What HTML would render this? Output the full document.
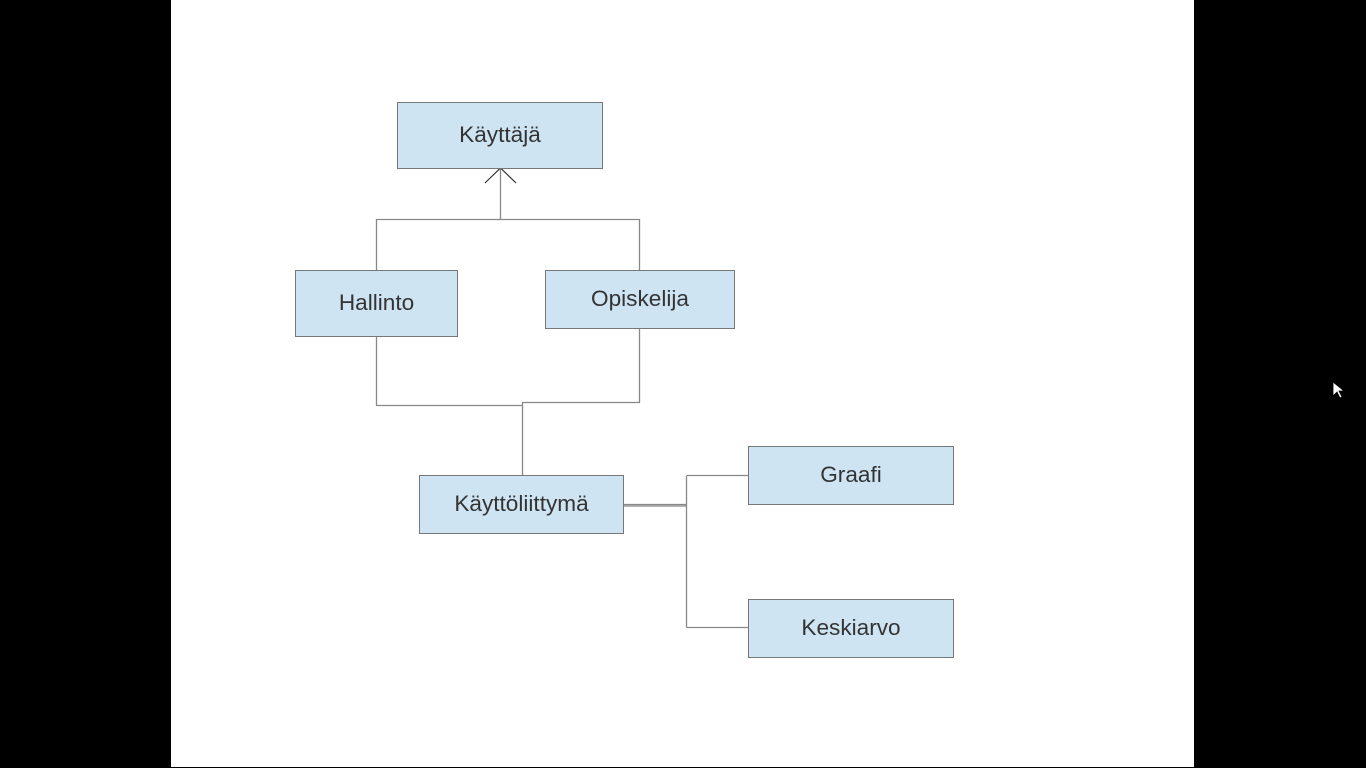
<!DOCTYPE html>
<html><head><style>
body{margin:0;width:1366px;height:768px;background:#000;overflow:hidden;font-family:"Liberation Sans",sans-serif}
#page{position:absolute;left:171px;top:0;width:1023px;height:767px;background:#fff}
.b{position:absolute;background:#cfe4f2;border:1px solid #777;box-sizing:border-box;display:flex;align-items:center;justify-content:center;font-size:22.6px;color:#333;padding-bottom:2px}
svg{position:absolute;left:0;top:0}
</style></head><body>
<div id="page"></div>
<svg width="1366" height="768">
<g stroke="#888" stroke-width="1.3" fill="none">
<path d="M500.5 168V219.5M376.5 270V219.5H639.5V270"/>
<path d="M376.5 336V405.5H522.5M639.5 328V402.5H522.5V476"/>
<path d="M624 504.5H686.5M624 506H686.5M686.5 476V627.5M686.5 475.5H748M686.5 627.5H748"/>
</g>
<path d="M485 183L500.5 168L516 183" stroke="#333" stroke-width="1.2" fill="none"/>
<path d="M1333 382v14l4-4 3 6 2-1-3-6h5z" fill="#fff" stroke="#000" stroke-width="0.8"/>
</svg>
<div class="b" style="left:397px;top:102px;width:206px;height:67px">Käyttäjä</div>
<div class="b" style="left:295px;top:270px;width:163px;height:67px">Hallinto</div>
<div class="b" style="left:545px;top:270px;width:190px;height:59px">Opiskelija</div>
<div class="b" style="left:419px;top:475px;width:205px;height:59px">Käyttöliittymä</div>
<div class="b" style="left:748px;top:446px;width:206px;height:59px">Graafi</div>
<div class="b" style="left:748px;top:599px;width:206px;height:59px">Keskiarvo</div>
</body></html>
